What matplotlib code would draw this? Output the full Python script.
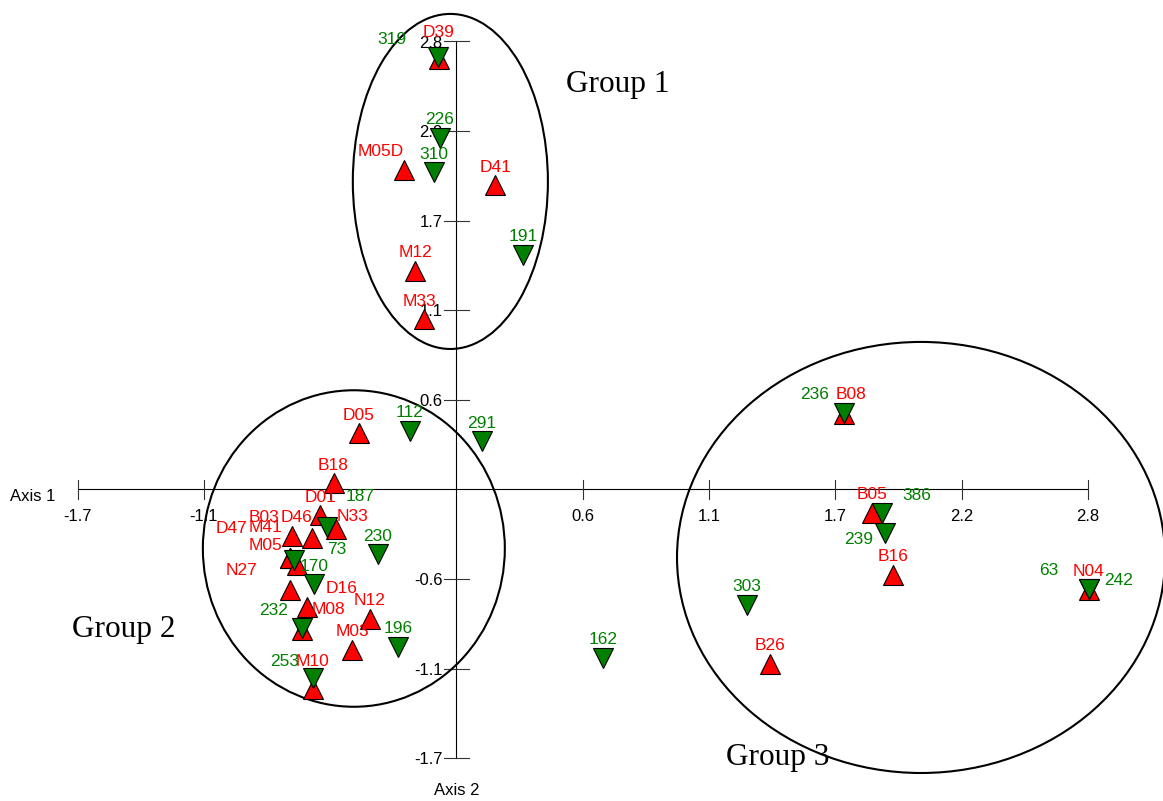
import matplotlib
matplotlib.use('Agg')
import matplotlib.pyplot as plt
from matplotlib.patches import Ellipse

# ---- data (axis units) ----
red_names = ['D39', 'M05D', 'D41', 'M12', 'M33', 'D05', 'B18', 'D01', 'N33', 'D46',
             'B03', 'D47', 'M05', 'M41', 'N27', 'M08', 'D16', 'N12', 'M03', 'M10',
             'B08', 'B05', 'B16', 'B26', 'N04']
red_x = [-0.079, -0.231, 0.172, -0.183, -0.145, -0.432, -0.545, -0.604, -0.533, -0.639,
         -0.731, -0.736, -0.736, -0.707, -0.740, -0.663, -0.687, -0.385, -0.463, -0.637,
         1.718, 1.843, 1.936, 1.392, 2.803]
red_y = [2.689, 1.997, 1.901, 1.366, 1.066, 0.351, 0.039, -0.161, -0.247, -0.305,
         -0.289, -0.430, -0.430, -0.472, -0.628, -0.734, -0.878, -0.808, -1.001, -1.247,
         0.472, -0.145, -0.533, -1.089, -0.628]

green_names = ['319', '226', '310', '191', '112', '291', '187', '73', '230', '170',
               '232', '196', '253', '162', '236', '386', '239', '303', '63', '242']
green_x = [-0.080, -0.075, -0.101, 0.296, -0.208, 0.113, -0.573, -0.722, -0.349, -0.630,
           -0.687, -0.260, -0.637, 0.649, 1.718, 1.887, 1.899, 1.287, 2.803, 2.803]
green_y = [2.705, 2.198, 1.984, 1.466, 0.367, 0.302, -0.236, -0.441, -0.404, -0.591,
           -0.866, -0.984, -1.180, -1.052, 0.479, -0.149, -0.269, -0.720, -0.622, -0.622]

tick_step = 0.56
tick_idx = [-3, -2, -1, 1, 2, 3, 4, 5]
tick_labels = ['-1.7', '-1.1', '-0.6', '0.6', '1.1', '1.7', '2.2', '2.8']
# the -0.6 label on axis 1 is hidden under the samples in the original
x_hidden = ['-0.6']

groups = ['Group 1', 'Group 2', 'Group 3']

# label offsets in pixels (default: centred above the marker)
lab_off = {
    'D39': (0, 27), 'M05D': (-24, 18), 'N33': (16, 12), 'D46': (-16, 21),
    'B03': (-28, 18), 'D47': (-59, 30), 'M05': (-25, 13), 'M41': (-32, 37),
    'N27': (-48, 19), 'M08': (22, -3), 'D16': (40, 41), 'M10': (0, 27),
    'B08': (7, 19), 'M33': (-4, 17),
    '319': (-46, 17), '187': (33, 31), '73': (43, 11), '232': (-28, 18),
    '253': (-28, 17), '236': (-29, 18), '386': (35, 18), '239': (-26, -7),
    '63': (-40, 18), '242': (30, 8),
}

RED = '#ff0000'
GREEN = '#007f00'
sans = ['Liberation Sans', 'DejaVu Sans']

fig = plt.figure(figsize=(11.63, 8.01), dpi=100)
ax = fig.add_axes([0, 0, 1, 1])
ax.set_xlim(-2.024, 3.133)
ax.set_ylim(-1.947, 3.059)
ax.axis('off')

# axes through the origin
lo, hi = tick_idx[0] * tick_step, tick_idx[-1] * tick_step
ax.plot([lo, hi], [0, 0], color='black', lw=0.8, zorder=1)
ax.plot([0, 0], [lo, hi], color='black', lw=0.8, zorder=1)
tl = 0.057
for k, lab in zip(tick_idx, tick_labels):
    v = k * tick_step
    ax.plot([v, v], [-tl, tl], color='#333333', lw=0.8, zorder=1)
    ax.plot([-tl, tl], [v, v], color='#333333', lw=0.8, zorder=1)
    if lab not in x_hidden:
        ax.text(v, -0.172, lab, ha='center', va='center', fontsize=12, family=sans, zorder=1)
    ax.text(-0.062, v - 0.01, lab, ha='right', va='center', fontsize=12, family=sans, zorder=1)

ax.text(-1.878, -0.041, 'Axis 1', ha='center', va='center', fontsize=12, family=sans)
ax.text(0.0, -1.884, 'Axis 2', ha='center', va='center', fontsize=12, family=sans)

# group ellipses
ax.add_patch(Ellipse((-0.027, 1.925), 0.865, 2.094, fill=False, ec='black', lw=1.5, zorder=2))
ax.add_patch(Ellipse((-0.455, -0.369), 1.339, 1.978, fill=False, ec='black', lw=1.5, zorder=2))
ax.add_patch(Ellipse((2.060, -0.425), 2.164, 2.694, fill=False, ec='black', lw=1.5, zorder=2))

ax.text(0.716, 2.534, groups[0], ha='center', va='center', fontsize=22.5, family='Liberation Serif')
ax.text(-1.474, -0.878, groups[1], ha='center', va='center', fontsize=22.5, family='Liberation Serif')
ax.text(1.426, -1.678, groups[2], ha='center', va='center', fontsize=22.5, family='Liberation Serif')

# samples
ax.plot(red_x, red_y, '^', ms=14.4, mfc=RED, mec='black', mew=0.8, ls='none', zorder=3)
ax.plot(green_x, green_y, 'v', ms=14.4, mfc=GREEN, mec='black', mew=0.8, ls='none', zorder=4)

for names, xs, ys, col in [(red_names, red_x, red_y, RED), (green_names, green_x, green_y, GREEN)]:
    for n, x, y in zip(names, xs, ys):
        ax.annotate(n, (x, y), xytext=lab_off.get(n, (0, 18)), textcoords='offset pixels',
                    ha='center', va='center', color=col, fontsize=12.5, family=sans, zorder=5)

plt.savefig('out.png', dpi=100)
